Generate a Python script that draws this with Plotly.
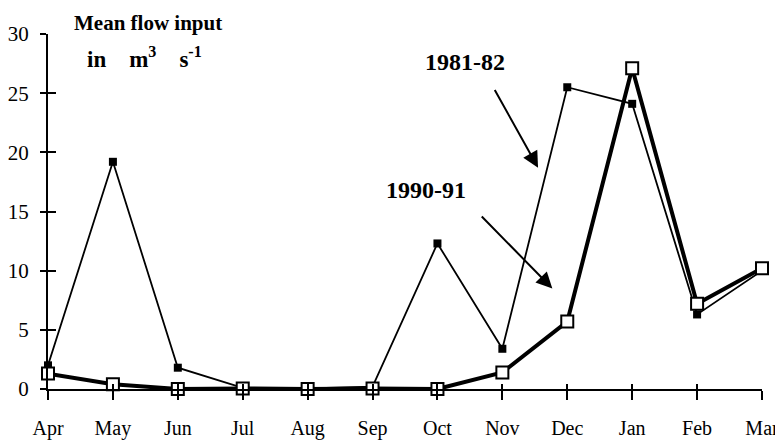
import plotly.graph_objects as go

months = ["Apr", "May", "Jun", "Jul", "Aug", "Sep", "Oct", "Nov", "Dec", "Jan", "Feb", "Mar"]
flow_1981_82 = [2.0, 19.2, 1.8, 0.1, 0.05, 0.2, 12.3, 3.4, 25.5, 24.1, 6.3, 10.0]
flow_1990_91 = [1.3, 0.4, 0.0, 0.05, 0.0, 0.05, 0.0, 1.4, 5.7, 27.1, 7.2, 10.2]
y_ticks = [0, 5, 10, 15, 20, 25, 30]

SERIF = "Liberation Serif"

fig = go.Figure()
fig.add_trace(go.Scatter(
    x=months, y=flow_1981_82, mode="lines+markers", name="1981-82",
    line=dict(color="black", width=1.8),
    marker=dict(symbol="square", size=8, color="black"),
    cliponaxis=False,
))
fig.add_trace(go.Scatter(
    x=months, y=flow_1990_91, mode="lines+markers", name="1990-91",
    line=dict(color="black", width=4),
    marker=dict(symbol="square", size=12, color="white",
                line=dict(color="black", width=2)),
    cliponaxis=False,
))

axis_common = dict(showgrid=False, zeroline=False, linecolor="black",
                   tickcolor="black", automargin=False)

# page body has an 8px default margin, so the figure is sized to fit the window
fig.update_layout(
    width=775, height=432,
    margin=dict(l=40, r=21, t=26, b=51),
    paper_bgcolor="white", plot_bgcolor="white",
    showlegend=False,
    font=dict(family=SERIF, color="black", size=20),
    xaxis=dict(**axis_common, type="category", range=[0, 11],
               showline=True, linewidth=2, ticks="outside", ticklen=9,
               tickwidth=2, tickfont=dict(size=20, family=SERIF), ticklabelstandoff=11),
    yaxis=dict(**axis_common, range=[0, 30], tickvals=y_ticks,
               showline=True, linewidth=2, ticks="outside", ticklen=6,
               tickwidth=2, tickfont=dict(size=21, family=SERIF), ticklabelstandoff=7),
    yaxis2=dict(**axis_common, range=[0, 30], tickvals=y_ticks, overlaying="y",
                anchor="x", side="left", showline=False, ticks="inside",
                ticklen=8, tickwidth=2, showticklabels=False),
    xaxis2=dict(**axis_common, type="category", range=[0, 11], overlaying="x",
                anchor="y", side="bottom", showline=False, ticks="inside",
                ticklen=5, tickwidth=2, showticklabels=False,
                tickvals=months),
)

# invisible trace to activate the inner-tick axes
fig.add_trace(go.Scatter(x=months, y=flow_1990_91, xaxis="x2", yaxis="y2",
                         mode="lines", line=dict(width=0, color="rgba(0,0,0,0)"),
                         showlegend=False, hoverinfo="skip"))

fig.add_annotation(x=1.54, y=1.031, xref="x", yref="paper", text="<b>Mean flow input</b>",
                   showarrow=False, xanchor="center", yanchor="middle",
                   font=dict(size=21, family=SERIF))
fig.add_annotation(x=1.48, y=28.0, xref="x", yref="y",
                   text="<b>in</b>&nbsp;&nbsp;&nbsp;&nbsp;<b>m<sup>3</sup></b>&nbsp;&nbsp;&nbsp;&nbsp;<b>s<sup>-1</sup></b>",
                   showarrow=False, xanchor="center", yanchor="middle",
                   font=dict(size=23, family=SERIF))
fig.add_annotation(x=6.43, y=27.6, xref="x", yref="y", text="<b>1981-82</b>",
                   showarrow=False, font=dict(size=24, family=SERIF))
fig.add_annotation(x=5.82, y=16.8, xref="x", yref="y", text="<b>1990-91</b>",
                   showarrow=False, font=dict(size=24, family=SERIF))

fig.add_annotation(x=7.55, y=18.7, ax=6.87, ay=25.4, xref="x", yref="y",
                   axref="x", ayref="y", text="", showarrow=True,
                   arrowhead=2, arrowsize=1.6, arrowwidth=2, arrowcolor="black")
fig.add_annotation(x=7.77, y=8.5, ax=6.66, ay=14.7, xref="x", yref="y",
                   axref="x", ayref="y", text="", showarrow=True,
                   arrowhead=2, arrowsize=1.6, arrowwidth=2, arrowcolor="black")

fig.write_html("out.html")
